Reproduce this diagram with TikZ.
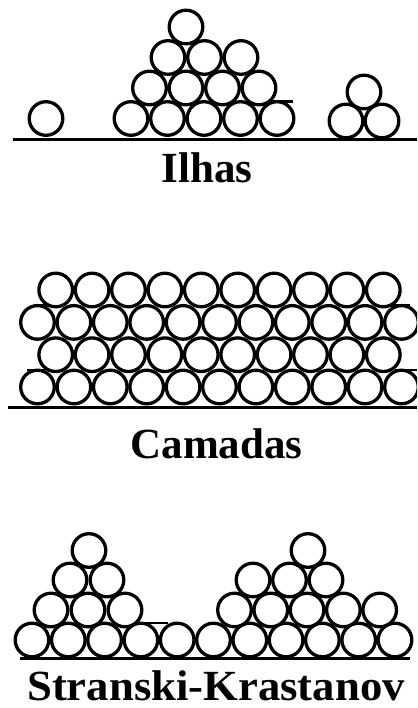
\documentclass[tikz,border=0pt]{standalone}
\usepackage{fontspec}
\usepackage{graphicx}
\setmainfont{Liberation Serif}

% one horizontal row of spheres: y, first x, pitch, last index, style
\newcommand\ballrow[5]{%
  \foreach \k in {0,...,#4} \path[#5] ({#2+#3*\k},#1) circle[radius=16.8pt];%
}

% every sphere of the three growth modes
\newcommand\allballs[1]{%
  % islands
  \path[#1] (46,118.5) circle[radius=16.8pt];
  \ballrow{118.5}{131}{36.5}{4}{#1}
  \ballrow{88}{149.5}{36.5}{3}{#1}
  \ballrow{57.5}{168}{36.5}{2}{#1}
  \ballrow{27}{186}{36.5}{0}{#1}
  \ballrow{121}{346}{36}{1}{#1}
  \ballrow{92}{364}{36}{0}{#1}
  % layers
  \ballrow{387}{37.5}{36.4}{10}{#1}
  \ballrow{354.7}{55.7}{36.4}{9}{#1}
  \ballrow{322.4}{37.5}{36.4}{10}{#1}
  \ballrow{290}{55.7}{36.4}{9}{#1}
  % Stranski-Krastanov
  \ballrow{640}{32}{36.3}{10}{#1}
  \ballrow{610}{51}{37}{2}{#1}
  \ballrow{580}{70}{37}{1}{#1}
  \ballrow{550.5}{89}{36.3}{0}{#1}
  \ballrow{610}{234.5}{36.3}{4}{#1}
  \ballrow{580}{253}{36.5}{2}{#1}
  \ballrow{550.5}{308}{36.3}{0}{#1}
}

\begin{document}
\begin{tikzpicture}[x=1pt,y=-1pt,
  ballfill/.style={fill=white},
  ballline/.style={draw=black,line width=3.3pt},
  ground/.style={draw=black,line width=3.5pt},
  tangent/.style={draw=black,line width=2.5pt},
  caption/.style={font=\bfseries\fontsize{43}{43}\selectfont,
                  inner sep=0pt,anchor=base}]
\useasboundingbox (0,0) rectangle (417,708);
\fill[white] (0,0) rectangle (417,708);
\clip (0,0) rectangle (417,708);

% short tangent strokes along the tops of supporting rows
\path[tangent] (268,101.5) -- (293,101.5);
\path[tangent] (27,370) -- (45,370);
\path[tangent] (395,370) -- (417,370);
\path[tangent] (35,305.5) -- (48,305.5);
\path[tangent] (383,305.5) -- (410,305.5);
\path[tangent] (140,623) -- (168,623);
\path[tangent] (376,623) -- (400,623);

% spheres: white bodies first, outlines on top
\allballs{ballfill}
\allballs{ballline}

% substrates
\path[ground] (13,139.5) -- (417,139.5);
\path[ground] (8,407.5) -- (417,407.5);
\path[ground] (20,658.5) -- (410,658.5);

% captions
\node[caption] (ilhas) at (207,182.5) {Ilhas};
\node[caption] (camadas) at (216.5,458) {Camadas};
\node[caption] (sk) at (216,700) {\scalebox{1.04}[1]{Stranski-Krastanov}};
\end{tikzpicture}
\end{document}
